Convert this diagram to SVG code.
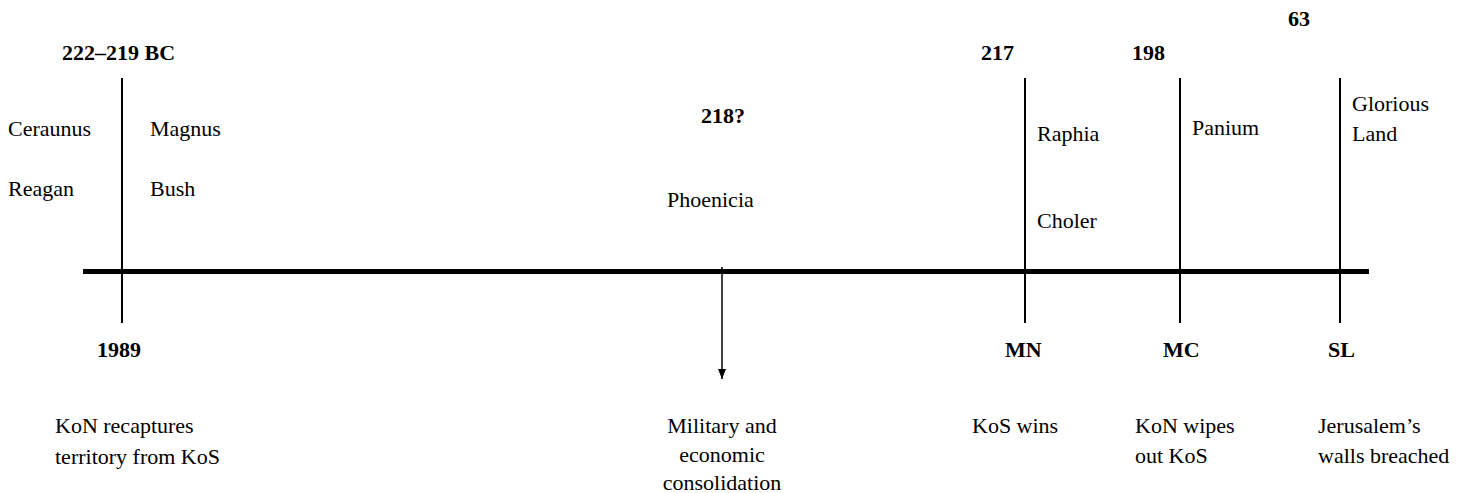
<svg xmlns="http://www.w3.org/2000/svg" width="1468" height="493" viewBox="0 0 1468 493">
<style>
text{font-family:'Liberation Serif','DejaVu Serif',serif;font-size:22px;fill:#000}
.b{font-weight:bold}
.m{text-anchor:middle}
.tick{stroke:#000;stroke-width:2;fill:none}
</style>
<defs>
<marker id="ah2" markerWidth="10" markerHeight="8" refX="10" refY="4" orient="auto" markerUnits="userSpaceOnUse" viewBox="0 0 10 8">
<path d="M0,0 L10,4 L0,8 Z" fill="#000"/>
</marker>
</defs>
<rect width="1468" height="493" fill="#fff"/>
<g id="connectors">
<line x1="83" y1="271.5" x2="1369" y2="271.5" stroke="#000" stroke-width="5"/>
<line class="tick" x1="122" y1="78" x2="122" y2="323"/>
<line class="tick" x1="1025" y1="78" x2="1025" y2="323"/>
<line class="tick" x1="1180" y1="78" x2="1180" y2="323"/>
<line class="tick" x1="1340" y1="78" x2="1340" y2="323"/>
<line x1="722" y1="267" x2="722" y2="379" stroke="#000" stroke-width="1.5" marker-end="url(#ah2)"/>
</g>
<g id="n1989" font-family="Liberation Serif, serif">
<text class="b" x="62" y="60">222–219 BC</text>
<text x="8" y="136">Ceraunus</text>
<text x="150" y="136">Magnus</text>
<text x="8" y="196">Reagan</text>
<text x="150" y="196">Bush</text>
<text class="b" x="97" y="357">1989</text>
<text x="55" y="433">KoN recaptures</text>
<text x="55" y="464">territory from KoS</text>
</g>
<g id="n218">
<text class="b m" x="723" y="123">218?</text>
<text x="667" y="207">Phoenicia</text>
<text class="m" x="722" y="433">Military and</text>
<text class="m" x="722" y="462">economic</text>
<text class="m" x="722" y="490">consolidation</text>
</g>
<g id="nMN">
<text class="b" x="981" y="60">217</text>
<text x="1037" y="141">Raphia</text>
<text x="1037" y="228">Choler</text>
<text class="b" x="1005" y="357">MN</text>
<text x="972" y="433">KoS wins</text>
</g>
<g id="nMC">
<text class="b" x="1132" y="60">198</text>
<text x="1192" y="135">Panium</text>
<text class="b" x="1163" y="357">MC</text>
<text x="1135" y="433">KoN wipes</text>
<text x="1135" y="463">out KoS</text>
</g>
<g id="nSL">
<text class="b" x="1288" y="26">63</text>
<text x="1352" y="111">Glorious</text>
<text x="1352" y="141">Land</text>
<text class="b" x="1328" y="357">SL</text>
<text x="1318" y="433">Jerusalem’s</text>
<text x="1318" y="463">walls breached</text>
</g>
</svg>
